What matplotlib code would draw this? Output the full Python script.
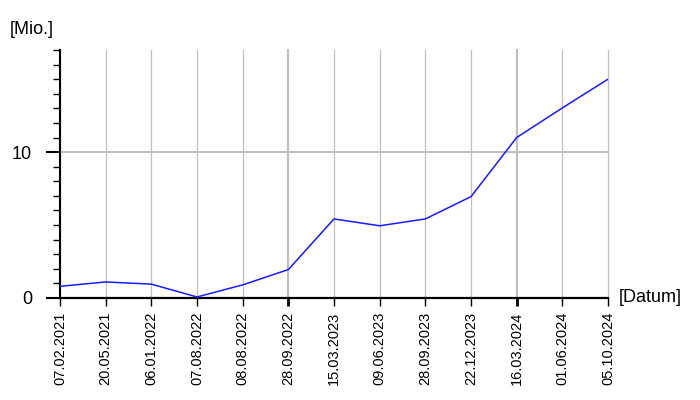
import matplotlib.pyplot as plt
from matplotlib.ticker import MultipleLocator

plt.rcParams['font.family'] = ['Liberation Sans', 'DejaVu Sans']

dates = ["07.02.2021", "20.05.2021", "06.01.2022", "07.08.2022", "08.08.2022",
         "28.09.2022", "15.03.2023", "09.06.2023", "28.09.2023", "22.12.2023",
         "16.03.2024", "01.06.2024", "05.10.2024"]
values = [0.8, 1.1, 0.95, 0.07, 0.9, 1.95, 5.42, 4.95, 5.42, 6.95, 11.0, 13.03, 15.0]
strong = ["28.09.2022", "16.03.2024"]

fig = plt.figure(figsize=(7, 4), dpi=100)
ax = fig.add_axes([60 / 700, 102 / 400, 548 / 700, 248 / 400])

x = list(range(len(dates)))

# vertical grid lines at every date, thicker at the marked ones
for i, d in enumerate(dates):
    lw = 1.6 if d in strong else 0.9
    ax.axvline(i, color="#c0c0c0", lw=lw, zorder=0, clip_on=False)
ax.axhline(10, color="#c0c0c0", lw=1.5, zorder=0)

ax.plot(x, values, color="#1a1aff", lw=1.1, zorder=3)

ax.set_xlim(0, len(dates) - 1)
ax.set_ylim(0, 17)
ax.set_xticks(x)
ax.set_xticklabels(dates, rotation=90, fontsize=10.5)
ax.set_yticks([0, 10])
ax.set_yticklabels(["0", "10"], fontsize=13)
ax.yaxis.set_minor_locator(MultipleLocator(1))

for sp in ["top", "right"]:
    ax.spines[sp].set_visible(False)
ax.spines["left"].set_linewidth(1.5)
ax.spines["bottom"].set_linewidth(1.6)

ax.tick_params(axis="y", which="major", length=10, width=1.5, pad=10)
ax.tick_params(axis="y", which="minor", length=5, width=1)
ax.tick_params(axis="x", which="major", length=6, width=1, pad=4)
for i, d in enumerate(dates):
    if d in strong:
        ax.xaxis.get_major_ticks()[i].tick1line.set_markeredgewidth(2)

fig.text(10 / 700, 1 - 30 / 400, "[Mio.]", fontsize=13, va="center", ha="left")
ax.annotate("[Datum]", xy=(1, 0), xycoords="axes fraction", xytext=(8, 0),
            textcoords="offset points", fontsize=13, va="center", ha="left")

fig.savefig("out.png", dpi=100)
